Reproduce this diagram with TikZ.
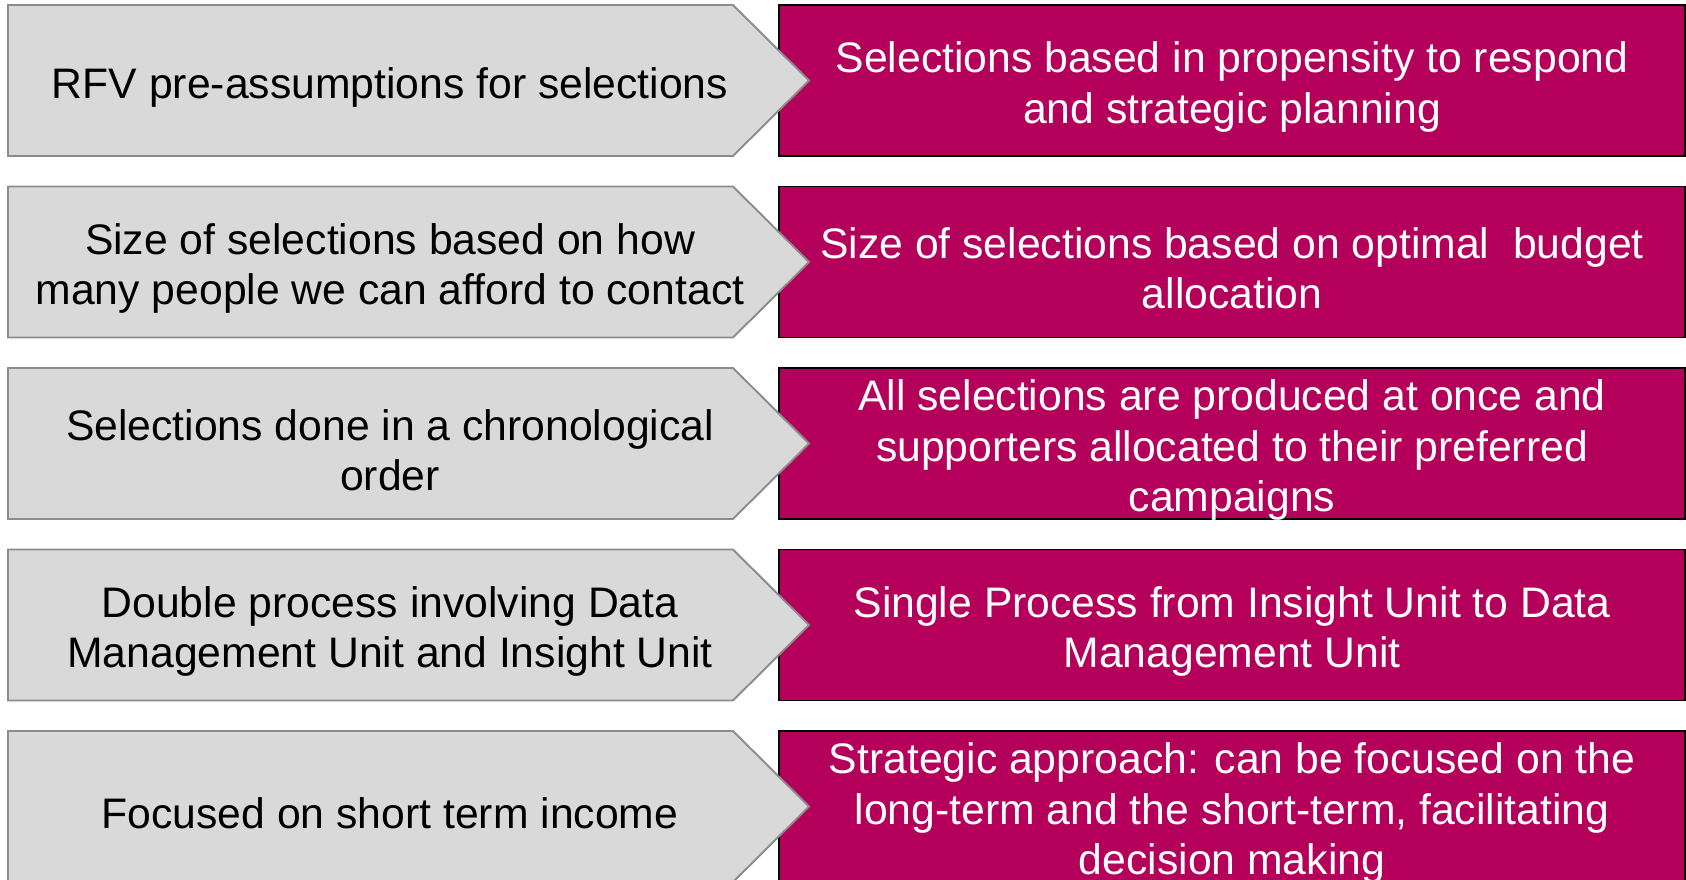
\documentclass[tikz,border=0pt]{standalone}
\usepackage{fontspec}
\setmainfont{Liberation Sans}
\usetikzlibrary{positioning}
\definecolor{panel}{HTML}{D9D9D9}
\definecolor{edge}{HTML}{8C8C8C}
\definecolor{berry}{HTML}{B5005B}

\begin{document}
\begin{tikzpicture}[x=0.02cm, y=-0.02cm,
  chevron/.style={fill=panel, draw=edge, line width=1.1pt, line join=miter},
  target/.style={fill=berry, draw=black, line width=1.1pt},
  now/.style={align=center, inner sep=0pt, text=black, font=\fontsize{24.3}{28.7}\selectfont},
  next/.style={align=center, inner sep=0pt, text=white, font=\fontsize{24.3}{28.7}\selectfont}]
  \useasboundingbox (0,0) rectangle (1686,879);

  % Boxes: new way first, old way on top of it
  \foreach \t in {5, 186.5, 368, 549.5, 731} {
    \draw[target] (779,\t) rectangle (1685,\t+151);
    \draw[chevron] (8,\t) -- (733,\t) -- (809,\t+75.5) -- (733,\t+151) -- (8,\t+151) -- cycle;
  }

  % Current practice
  \node[now] (now1) at (390,87) {RFV pre-assumptions for selections};
  \node[now] (now2) at (390,268.5) {Size of selections based on how\\many people we can afford to contact};
  \node[now] (now3) at (390,450) {Selections done in a chronological\\order};
  \node[now] (now4) at (390,631.5) {Double process involving Data\\Management Unit and Insight Unit};
  \node[now] (now5) at (390,813) {Focused on short term income};

  % Proposed practice
  \node[next] (next1) at (1232,87) {Selections based in propensity to respond\\and strategic planning};
  \node[next] (next2) at (1232,268.5) {Size of selections based on optimal \ budget\\allocation};
  \node[next] (next3) at (1232,450) {All selections are produced at once and\\supporters allocated to their preferred\\campaigns};
  \node[next] (next4) at (1232,631.5) {Single Process from Insight Unit to Data\\Management Unit};
  \node[next] (next5) at (1232,813) {Strategic approach: can be focused on the\\long-term and the short-term, facilitating\\decision making};
\end{tikzpicture}
\end{document}
